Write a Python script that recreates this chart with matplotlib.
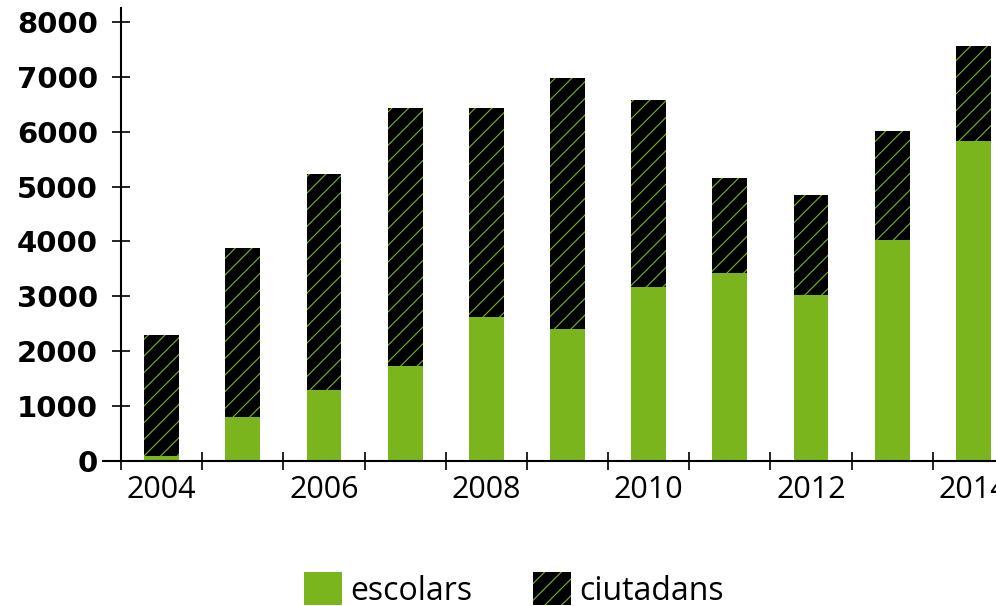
import numpy as np
import matplotlib
matplotlib.use('Agg')
import matplotlib.pyplot as plt
from matplotlib.patches import Patch

years = list(range(2004, 2015))
escolars = [100, 800, 1290, 1730, 2620, 2400, 3170, 3425, 3025, 4025, 5830]
totals = [2290, 3880, 5230, 6430, 6430, 6975, 6575, 5155, 4845, 6010, 7560]
ciutadans = [t - e for t, e in zip(totals, escolars)]
label_years = [2004, 2006, 2008, 2010, 2012, 2014]

green = '#7ab51d'
plt.rcParams['hatch.linewidth'] = 0.8
plt.rcParams['font.family'] = ['Open Sans', 'DejaVu Sans']

fig = plt.figure(figsize=(9.96, 6.06), dpi=100)
# axes runs a little past the right edge, like the original
ax = fig.add_axes([121 / 996, 145 / 606, 893 / 996, 453 / 606])

x = np.arange(len(years))
ax.bar(x, escolars, width=0.43, color=green, linewidth=0)
ax.bar(x, ciutadans, width=0.43, bottom=escolars, color='black',
       edgecolor=green, hatch='//', linewidth=0)

ax.set_xlim(-0.5, len(years) - 0.5)
ax.set_ylim(0, 8255)

for s in ['top', 'right']:
    ax.spines[s].set_visible(False)
for s in ['left', 'bottom']:
    ax.spines[s].set_linewidth(1.5)
# x axis line pokes out a bit left of the y axis
ax.axhline(0, xmin=-0.02, xmax=0, color='black', lw=1.5, clip_on=False)

ax.set_yticks(range(0, 8001, 1000))
ax.tick_params(axis='y', direction='inout', length=13, width=1.2, pad=10,
               labelsize=21)
for lab in ax.get_yticklabels():
    lab.set_fontweight('bold')
    lab.set_family(['DejaVu Sans'])

ax.set_xticks(np.arange(-0.5, len(years) - 0.4, 1))
ax.set_xticklabels([])
ax.tick_params(axis='x', which='major', direction='inout', length=13,
               width=1.2)
ax.set_xticks([years.index(y) for y in label_years], minor=True)
ax.set_xticklabels([str(y) for y in label_years], minor=True)
ax.tick_params(axis='x', which='minor', length=0, pad=10, labelsize=22)

handles = [Patch(facecolor=green, linewidth=0, label='escolars'),
           Patch(facecolor='black', edgecolor=green, hatch='//', linewidth=0,
                 label='ciutadans')]
fig.legend(handles=handles, loc='lower center', bbox_to_anchor=(0.516, -0.05),
           ncol=2, frameon=False, fontsize=23, handlelength=1.2,
           handleheight=1.2, handletextpad=0.25, columnspacing=1.9)

fig.savefig('out.png', dpi=100)
